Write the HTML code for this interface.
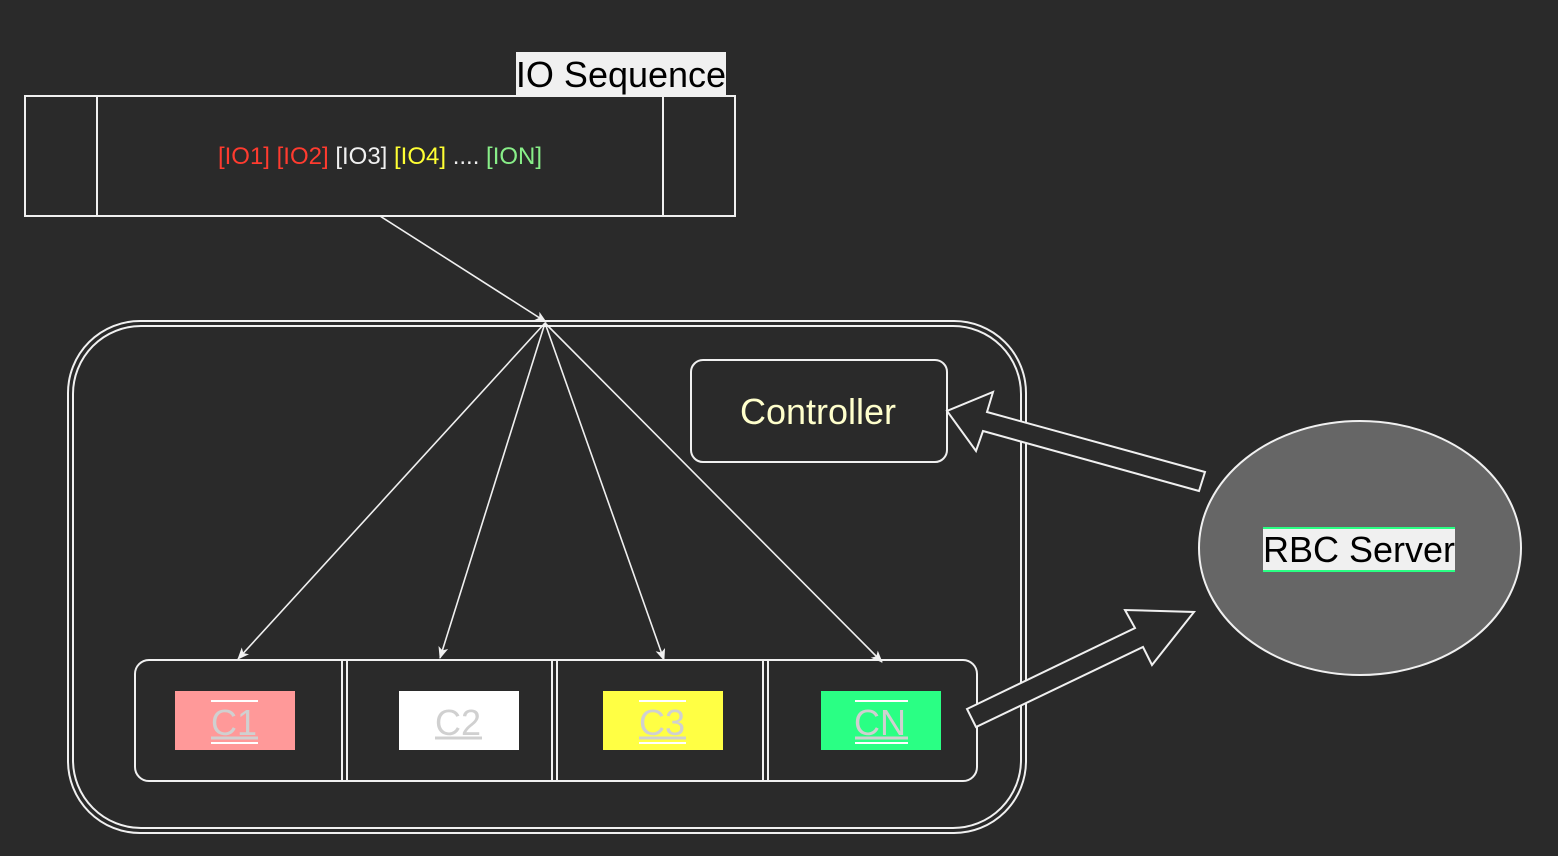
<!DOCTYPE html>
<html><head><meta charset="utf-8"><style>
html,body{margin:0;padding:0;background:#2a2a2a;width:1558px;height:856px;overflow:hidden}
svg{display:block}
text{font-family:"Liberation Sans",Arial,sans-serif}
</style></head><body>
<svg width="1558" height="856" viewBox="0 0 1558 856" xmlns="http://www.w3.org/2000/svg">
<rect width="1558" height="856" fill="#2a2a2a"/>
<!-- IO Sequence -->
<rect x="516" y="52" width="210" height="43" fill="#f0f0f0"/>
<text x="621" y="87" font-size="36" text-anchor="middle" fill="#000">IO Sequence</text>
<rect x="25" y="96" width="710" height="120" fill="none" stroke="#f0f0f0" stroke-width="2"/>
<line x1="97" y1="96" x2="97" y2="216" stroke="#f0f0f0" stroke-width="2"/>
<line x1="663" y1="96" x2="663" y2="216" stroke="#f0f0f0" stroke-width="2"/>
<text x="380" y="164" font-size="24" text-anchor="middle"><tspan fill="#ff3b2f">[IO1] [IO2] </tspan><tspan fill="#f0f0f0">[IO3] </tspan><tspan fill="#ffff33">[IO4] </tspan><tspan fill="#f0f0f0">.... </tspan><tspan fill="#88ee88">[ION]</tspan></text>
<!-- outer container -->
<rect x="68" y="321" width="958" height="512" rx="72" fill="none" stroke="#f0f0f0" stroke-width="2"/>
<rect x="73" y="326" width="948" height="502" rx="68" fill="none" stroke="#f0f0f0" stroke-width="2"/>
<!-- controller -->
<rect x="691" y="360" width="256" height="102" rx="12" fill="none" stroke="#f0f0f0" stroke-width="2"/>
<text x="818" y="424" font-size="36" text-anchor="middle" fill="#ffffcc">Controller</text>
<!-- bottom box -->
<rect x="135" y="660" width="842" height="121" rx="14" fill="none" stroke="#f0f0f0" stroke-width="2"/>
<g stroke="#f0f0f0" stroke-width="2">
<line x1="342" y1="660" x2="342" y2="781"/><line x1="347" y1="660" x2="347" y2="781"/>
<line x1="552" y1="660" x2="552" y2="781"/><line x1="557" y1="660" x2="557" y2="781"/>
<line x1="763" y1="660" x2="763" y2="781"/><line x1="768" y1="660" x2="768" y2="781"/>
</g>
<rect x="175" y="691" width="120" height="59" fill="#ff9999"/>
<rect x="399" y="691" width="120" height="59" fill="#ffffff"/>
<rect x="603" y="691" width="120" height="59" fill="#ffff44"/>
<rect x="821" y="691" width="120" height="59" fill="#2aff84"/>
<g font-size="36" fill="#d0d0d0" text-anchor="middle">
<text x="234" y="735">C1</text><text x="458" y="735">C2</text><text x="662" y="735">C3</text><text x="880" y="735">CN</text>
</g>
<g stroke="#d0d0d0" stroke-width="3">
<line x1="211" y1="738" x2="258" y2="738"/><line x1="435" y1="738" x2="482" y2="738"/><line x1="639" y1="738" x2="686" y2="738"/><line x1="855" y1="738" x2="908" y2="738"/>
</g>
<g stroke="#ffffff" stroke-width="2">
<line x1="211" y1="701" x2="258" y2="701"/><line x1="211" y1="743" x2="258" y2="743"/>
<line x1="639" y1="701" x2="686" y2="701"/><line x1="639" y1="743" x2="686" y2="743"/>
<line x1="855" y1="701" x2="908" y2="701"/><line x1="855" y1="743" x2="908" y2="743"/>
</g>
<!-- connectors -->
<defs><marker id="a" markerWidth="12" markerHeight="10" refX="11" refY="5" orient="auto" markerUnits="userSpaceOnUse"><path d="M0,0 L12,5 L0,10 L3,5 Z" fill="#f0f0f0"/></marker></defs>
<g stroke="#f0f0f0" stroke-width="1.6" fill="none" marker-end="url(#a)">
<line x1="380" y1="216" x2="546" y2="322"/>
<line x1="545" y1="323" x2="238" y2="659"/>
<line x1="545" y1="323" x2="440" y2="658"/>
<line x1="545" y1="323" x2="664" y2="660"/>
<line x1="545" y1="323" x2="882" y2="662"/>
</g>
<!-- RBC server -->
<ellipse cx="1360" cy="548" rx="161" ry="127" fill="#666666" stroke="#f0f0f0" stroke-width="2"/>
<rect x="1263" y="528" width="192" height="43" fill="#f0f0f0"/>
<line x1="1263" y1="528" x2="1455" y2="528" stroke="#2aff84" stroke-width="2"/>
<line x1="1263" y1="571" x2="1455" y2="571" stroke="#2aff84" stroke-width="2"/>
<text x="1359" y="562" font-size="36" text-anchor="middle" fill="#000">RBC Server</text>
<!-- block arrows -->
<polygon points="1205,472 987,412 993,392 947,411 976,451 983,431 1199,491" fill="#2a2a2a" stroke="#f0f0f0" stroke-width="2"/>
<polygon points="967,709 1135,628 1125,610 1194,612 1152,665 1143,647 976,727" fill="#2a2a2a" stroke="#f0f0f0" stroke-width="2"/>
</svg>
</body></html>
